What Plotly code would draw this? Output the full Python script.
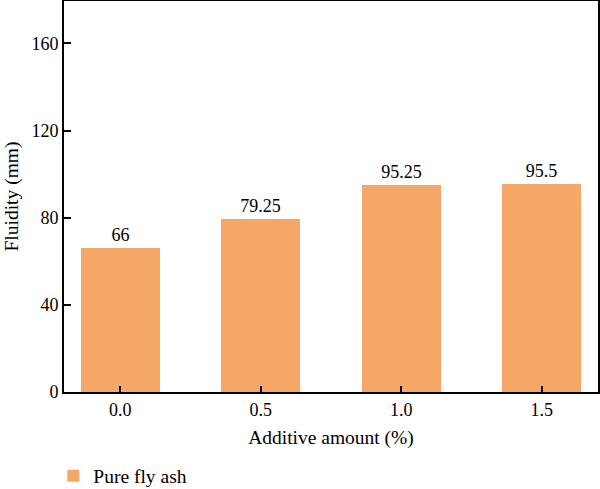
import plotly.graph_objects as go

additive = [0.0, 0.5, 1.0, 1.5]
tick_labels = ["0.0", "0.5", "1.0", "1.5"]
fluidity = [66, 79.25, 95.25, 95.5]
value_labels = ["66", "79.25", "95.25", "95.5"]
y_ticks = [0, 40, 80, 120, 160]

font_family = "Liberation Serif, serif"
fs = 18
fs_title = 19.5

fig = go.Figure()
fig.add_trace(go.Bar(
    x=additive, y=fluidity, width=0.28,
    name="Pure fly ash",
    marker=dict(color="#F4A767", line=dict(width=0)),
    text=value_labels, textposition="outside",
    textfont=dict(family=font_family, size=fs, color="black"),
    cliponaxis=False,
))

fig.update_layout(
    width=600, height=489,
    margin=dict(l=64, r=2, t=1, b=97, autoexpand=False),
    plot_bgcolor="white", paper_bgcolor="white",
    font=dict(family=font_family, size=fs, color="black"),
    showlegend=True,
    legend=dict(orientation="h", x=-0.02, xanchor="left", y=-0.215, yanchor="middle",
                font=dict(family=font_family, size=fs_title), bgcolor="rgba(0,0,0,0)"),
    bargap=0,
)
fig.update_xaxes(
    range=[-0.2, 1.7], tickvals=additive, ticktext=tick_labels,
    tickfont=dict(family=font_family, size=fs, color="black"),
    ticks="inside", ticklen=6, tickwidth=1.5, tickcolor="black",
    showline=True, linecolor="black", linewidth=2, mirror=True,
    showgrid=False, zeroline=False, automargin=False,
    title=dict(text="Additive amount (%)", standoff=12, font=dict(family=font_family, size=fs_title)),
)
fig.update_yaxes(
    range=[0, 179.5], tickvals=y_ticks,
    tickfont=dict(family=font_family, size=fs, color="black"),
    ticks="inside", ticklen=7, tickwidth=1.5, tickcolor="black",
    showline=True, linecolor="black", linewidth=2, mirror=True,
    showgrid=False, zeroline=False, automargin=False,
    title=dict(text="Fluidity (mm)", standoff=8, font=dict(family=font_family, size=fs_title)),
)

fig.write_html("out.html", config={"displayModeBar": False},
               post_script="document.body.style.margin='0';document.body.style.padding='0';")
